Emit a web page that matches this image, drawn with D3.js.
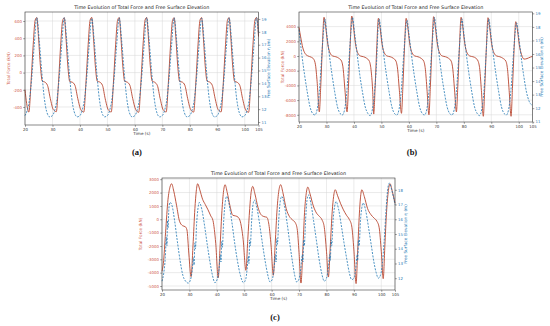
<!DOCTYPE html>
<html>
<head>
<meta charset="utf-8">
<script src="https://cdn.jsdelivr.net/npm/d3@7"></script>
<style>
  body { margin: 0; background: #fff; }
  svg { display: block; font-family: "DejaVu Sans", sans-serif; }
</style>
</head>
<body>
<svg id="fig" width="550" height="326"></svg>
<script>
// ---- shared ticks ----
var timeTicks = [20, 30, 40, 50, 60, 70, 80, 90, 100, 105];
var chartTitle = "Time Evolution of Total Force and Free Surface Elevation";
var forceLabel = "Total Force (kN)";
var etaLabel = "Free Surface Elevation \u03b7 (m)";
var timeLabel = "Time (s)";

// ---- panel (a) ----
var forceTicksA = [-400, -200, 0, 200, 400, 600];
var etaTicksA = [11, 12, 13, 14, 15, 16, 17, 18, 19];
var forceTimeA = [20, 20.6,
  21.4, 22.2, 23.0, 23.7, 24.3, 24.9, 25.6, 26.3, 27.2, 28.2, 29.2, 30.3,
  31.4, 32.2, 33.0, 33.7, 34.3, 34.9, 35.6, 36.3, 37.2, 38.2, 39.2, 40.3,
  41.4, 42.2, 43.0, 43.7, 44.3, 44.9, 45.6, 46.3, 47.2, 48.2, 49.2, 50.3,
  51.4, 52.2, 53.0, 53.7, 54.3, 54.9, 55.6, 56.3, 57.2, 58.2, 59.2, 60.3,
  61.4, 62.2, 63.0, 63.7, 64.3, 64.9, 65.6, 66.3, 67.2, 68.2, 69.2, 70.3,
  71.4, 72.2, 73.0, 73.7, 74.3, 74.9, 75.6, 76.3, 77.2, 78.2, 79.2, 80.3,
  81.4, 82.2, 83.0, 83.7, 84.3, 84.9, 85.6, 86.3, 87.2, 88.2, 89.2, 90.3,
  91.4, 92.2, 93.0, 93.7, 94.3, 94.9, 95.6, 96.3, 97.2, 98.2, 99.2, 100.3,
  101.4, 102.2, 103.0, 103.7, 104.3, 105];
var forceValA = [-200, -360,
  -460, -110, 330, 610, 640, 420, 80, -100, -110, -150, -300, -430,
  -455, -115, 330, 605, 638, 415, 75, -105, -112, -150, -300, -430,
  -460, -110, 325, 610, 642, 420, 80, -100, -110, -148, -305, -432,
  -458, -112, 330, 608, 640, 418, 78, -102, -111, -150, -300, -430,
  -462, -110, 332, 610, 641, 420, 80, -100, -112, -152, -302, -433,
  -458, -114, 328, 606, 638, 416, 76, -104, -110, -149, -300, -430,
  -460, -110, 330, 610, 640, 420, 80, -100, -110, -150, -300, -430,
  -457, -112, 326, 608, 639, 418, 78, -102, -112, -150, -302, -432,
  -462, -110, 330, 610, 642, 420];
var etaTimeA = [20, 20.8, 21.6, 22.4, 23.3, 24.3, 25.2, 26.1, 27.0, 27.9, 29.0, 30.0, 30.8,
  31.6, 32.4, 33.3, 34.3, 35.2, 36.1, 37.0, 37.9, 39.0, 40.0, 40.8,
  41.6, 42.4, 43.3, 44.3, 45.2, 46.1, 47.0, 47.9, 49.0, 50.0, 50.8,
  51.6, 52.4, 53.3, 54.3, 55.2, 56.1, 57.0, 57.9, 59.0, 60.0, 60.8,
  61.6, 62.4, 63.3, 64.3, 65.2, 66.1, 67.0, 67.9, 69.0, 70.0, 70.8,
  71.6, 72.4, 73.3, 74.3, 75.2, 76.1, 77.0, 77.9, 79.0, 80.0, 80.8,
  81.6, 82.4, 83.3, 84.3, 85.2, 86.1, 87.0, 87.9, 89.0, 90.0, 90.8,
  91.6, 92.4, 93.3, 94.3, 95.2, 96.1, 97.0, 97.9, 99.0, 100.0, 100.8,
  101.6, 102.4, 103.3, 104.3, 105];
var etaValA = [11.5, 11.9, 12.7, 14.3, 16.8, 19.1, 17.3, 14.9, 12.9, 11.8, 11.4, 11.5, 11.9,
  12.7, 14.3, 16.8, 19.1, 17.3, 14.9, 12.9, 11.8, 11.4, 11.5, 11.9,
  12.7, 14.3, 16.8, 19.05, 17.3, 14.9, 12.9, 11.8, 11.4, 11.5, 11.9,
  12.7, 14.3, 16.8, 19.1, 17.3, 14.9, 12.9, 11.8, 11.4, 11.5, 11.9,
  12.7, 14.3, 16.8, 19.1, 17.3, 14.9, 12.9, 11.8, 11.4, 11.5, 11.9,
  12.7, 14.3, 16.8, 19.1, 17.3, 14.9, 12.9, 11.8, 11.4, 11.5, 11.9,
  12.7, 14.3, 16.8, 19.05, 17.3, 14.9, 12.9, 11.8, 11.4, 11.5, 11.9,
  12.7, 14.3, 16.8, 19.1, 17.3, 14.9, 12.9, 11.8, 11.4, 11.5, 11.9,
  12.7, 14.3, 16.8, 19.1, 17.8];

// ---- panel (b) ----
var forceTicksB = [-8000, -6000, -4000, -2000, 0, 2000, 4000];
var etaTicksB = [11, 12, 13, 14, 15, 16, 17, 18, 19];
var forceTimeB = [20, 20.6, 21.4, 22.3, 23.3, 24.4, 25.3, 26.0, 26.6,
  27.4, 27.9, 28.5, 29.1, 29.7, 30.4, 31.3, 32.3, 33.4, 34.5, 35.5, 36.1, 36.7,
  37.5, 38.0, 38.6, 39.2, 39.8, 40.5, 41.4, 42.4, 43.5, 44.6, 45.6, 46.2, 46.8,
  47.2, 47.7, 48.3, 48.9, 49.5, 50.2, 51.1, 52.1, 53.2, 54.3, 55.3, 55.9, 56.5,
  57.3, 57.8, 58.4, 59.0, 59.6, 60.3, 61.2, 62.2, 63.3, 64.4, 65.4, 66.0, 66.6,
  67.3, 67.8, 68.4, 69.0, 69.6, 70.3, 71.2, 72.2, 73.3, 74.4, 75.4, 76.0, 76.6,
  77.3, 77.8, 78.4, 79.0, 79.6, 80.3, 81.2, 82.2, 83.3, 84.4, 85.2, 85.8, 86.4,
  87.1, 87.6, 88.2, 88.8, 89.4, 90.1, 91.0, 92.0, 93.1, 94.2, 95.3, 95.9, 96.5,
  97.2, 97.7, 98.3, 98.9, 99.5, 100.2, 101.0, 101.9, 103.0, 104.2, 105];
var forceValB = [3900, 2600, 1100, 300, 0, -150, -400, -1200, -3500,
  -7600, -4200, 1200, 5270, 4000, 1800, 400, 0, -100, -300, -700, -1800, -4500,
  -7600, -4200, 1300, 5440, 4100, 1800, 400, 0, -100, -300, -700, -1800, -4600,
  -7900, -4300, 1100, 5130, 3900, 1700, 400, 0, -100, -300, -700, -1800, -4500,
  -7800, -4300, 1100, 5130, 3900, 1700, 400, 0, -100, -300, -700, -1800, -4600,
  -8000, -4300, 1200, 5350, 4000, 1800, 400, 0, -100, -300, -700, -1800, -4500,
  -7600, -4200, 1200, 5270, 4000, 1800, 400, 0, -100, -300, -700, -1800, -4700,
  -8200, -4400, 1100, 5210, 3900, 1700, 400, 0, -100, -300, -700, -1800, -4700,
  -8200, -4400, 900, 4670, 3600, 1500, 200, -420, -350, -150, -50];
var etaTimeB = [20, 21.0, 22.0, 23.0, 24.0, 25.0, 25.8, 26.6, 27.4, 28.2, 28.9,
  29.4, 30.1, 31.0, 32.0, 33.0, 34.0, 35.0, 35.8, 36.6, 37.4, 38.2, 38.9,
  39.5, 40.2, 41.1, 42.1, 43.1, 44.1, 45.1, 45.9, 46.7, 47.5, 48.3, 48.7,
  49.2, 49.9, 50.8, 51.8, 52.8, 53.8, 54.8, 55.6, 56.4, 57.2, 58.0, 58.7,
  59.3, 60.0, 60.9, 61.9, 62.9, 63.9, 64.9, 65.7, 66.5, 67.3, 68.1, 68.8,
  69.3, 70.0, 70.9, 71.9, 72.9, 73.9, 74.9, 75.7, 76.5, 77.3, 78.1, 78.8,
  79.3, 80.0, 80.9, 81.9, 82.9, 83.9, 84.9, 85.7, 86.5, 87.3, 88.0, 88.6,
  89.1, 89.8, 90.7, 91.7, 92.7, 93.7, 94.7, 95.5, 96.3, 97.1, 97.9, 98.6,
  99.2, 99.9, 100.8, 101.8, 102.8, 103.8, 105];
var etaValB = [17.8, 16.0, 14.5, 13.2, 12.1, 11.6, 11.5, 11.9, 13.2, 15.6, 17.6,
  18.6, 17.5, 16.0, 14.5, 13.2, 12.1, 11.6, 11.5, 11.9, 13.2, 15.6, 17.6,
  18.7, 17.6, 16.1, 14.5, 13.2, 12.1, 11.6, 11.45, 11.9, 13.2, 15.6, 17.6,
  18.6, 17.5, 16.0, 14.5, 13.2, 12.1, 11.6, 11.5, 11.9, 13.2, 15.6, 17.5,
  18.5, 17.5, 16.0, 14.5, 13.2, 12.1, 11.6, 11.5, 11.9, 13.2, 15.6, 17.6,
  18.7, 17.6, 16.1, 14.5, 13.2, 12.1, 11.6, 11.5, 11.9, 13.2, 15.6, 17.6,
  18.6, 17.5, 16.0, 14.5, 13.2, 12.1, 11.6, 11.45, 11.9, 13.2, 15.6, 17.6,
  18.6, 17.5, 16.0, 14.5, 13.2, 12.1, 11.6, 11.5, 11.9, 13.2, 15.5, 17.4,
  18.3, 17.4, 15.9, 14.4, 13.2, 12.5, 12.2];

// ---- panel (c) ----
var forceTicksC = [-5000, -4000, -3000, -2000, -1000, 0, 1000, 2000, 3000];
var etaTicksC = [12, 13, 14, 15, 16, 17, 18];
var forceTimeC = [20, 20.5, 21.3, 22.2, 22.9, 23.5, 24.3, 25.3, 26.4, 27.5, 28.5, 29.1, 29.8,
  30.6, 31.3, 32.0, 32.5, 33.0, 33.8, 34.8, 35.8, 36.8, 37.8, 38.6, 39.6,
  40.5, 41.2, 41.8, 42.4, 43.0, 43.8, 44.8, 45.8, 46.8, 47.8, 48.6, 49.6,
  50.6, 51.3, 52.0, 52.5, 53.1, 53.9, 55.0, 56.1, 57.2, 58.2, 59.0, 59.8,
  60.6, 61.3, 62.0, 62.6, 63.3, 64.1, 65.3, 66.5, 67.6, 68.6, 69.3, 70.0,
  70.7, 71.4, 72.0, 72.6, 73.2, 74.0, 75.2, 76.4, 77.5, 78.4, 79.2, 80.0,
  80.7, 81.4, 82.1, 82.6, 83.2, 84.0, 85.1, 86.2, 87.3, 88.3, 89.2, 90.0,
  90.8, 91.4, 92.0, 92.4, 92.9, 93.8, 95.0, 96.2, 97.3, 98.4, 99.2, 100.0,
  100.7, 101.3, 101.9, 102.5, 103.2, 104.0, 105];
var forceValC = [-3900, -3300, -1000, 1500, 2400, 2660, 2100, 1050, -150, -480, -560, -800, -2600,
  -4300, -2000, 800, 2100, 2660, 2200, 1500, 1100, 700, 250, -100, -1800,
  -4380, -2000, 400, 2000, 2590, 2000, 1000, 300, 250, 150, -200, -1500,
  -3830, -1500, 800, 2000, 2460, 1900, 900, 350, 200, 150, -400, -2000,
  -4200, -1800, 800, 2100, 2590, 2000, 800, 200, -50, -250, -700, -2500,
  -4780, -2200, 500, 1900, 2410, 1900, 1000, 450, 200, -50, -600, -2400,
  -4330, -2000, 600, 1700, 2210, 1800, 1200, 700, 300, 0, -500, -2300,
  -4820, -2300, 400, 1600, 2210, 1700, 800, 350, 100, -150, -600, -2400,
  -4450, -2000, 500, 2000, 2660, 2100, 1200];
var etaTimeC = [20, 20.6, 21.2, 21.6, 21.8, 22.0, 22.2, 22.5, 22.9, 23.7, 24.6, 25.6, 26.6, 27.6, 28.6,
  29.6, 30.4, 31.0, 31.5, 31.7, 32.0, 32.2, 32.6, 33.1, 33.6, 34.5, 35.5, 36.5, 37.5, 38.4,
  39.3, 40.1, 40.8, 41.3, 41.5, 41.8, 42.0, 42.5, 43.1, 43.6, 44.5, 45.5, 46.5, 47.5, 48.6,
  49.7, 50.5, 51.1, 51.5, 51.7, 52.0, 52.2, 52.7, 53.2, 53.7, 54.6, 55.6, 56.6, 57.6, 58.5,
  59.4, 60.2, 60.9, 61.4, 61.6, 61.9, 62.1, 62.6, 63.2, 63.7, 64.6, 65.6, 66.6, 67.6, 68.4,
  69.1, 69.9, 70.6, 71.2, 71.4, 71.7, 71.9, 72.4, 72.9, 73.4, 74.3, 75.3, 76.3, 77.3, 78.3,
  79.2, 80.0, 80.7, 81.2, 81.4, 81.7, 81.9, 82.4, 83.0, 83.5, 84.4, 85.4, 86.4, 87.4, 88.3,
  89.2, 90.0, 90.7, 91.2, 91.4, 91.7, 91.9, 92.4, 92.9, 93.4, 94.3, 95.3, 96.3, 97.3, 98.1,
  98.9, 99.7, 100.4, 101.0, 101.6, 102.1, 102.9, 103.8, 105];
var etaValC = [11.8, 12.3, 13.4, 14.8, 14.2, 15.9, 15.4, 16.7, 17.15, 16.9, 15.9, 14.5, 13.2, 12.2, 11.8,
  11.67, 11.9, 12.5, 13.4, 12.9, 14.4, 14.0, 15.6, 16.7, 17.14, 16.7, 15.6, 14.3, 13.1, 12.2,
  11.7, 11.9, 12.6, 13.6, 13.1, 14.5, 14.1, 15.9, 17.2, 17.55, 17.0, 15.8, 14.4, 13.2, 12.2,
  11.7, 11.9, 12.7, 13.5, 13.0, 14.6, 14.2, 15.9, 17.0, 17.3, 16.8, 15.7, 14.4, 13.2, 12.3,
  11.75, 11.9, 12.7, 13.6, 13.1, 14.7, 14.3, 16.0, 17.3, 17.55, 17.0, 15.8, 14.4, 13.1, 12.2,
  11.75, 11.9, 12.6, 13.6, 13.1, 14.6, 14.2, 16.0, 17.3, 17.65, 17.1, 15.9, 14.6, 13.3, 12.3,
  11.8, 12.0, 12.7, 13.6, 13.2, 14.6, 14.2, 15.9, 16.9, 17.2, 16.7, 15.6, 14.4, 13.3, 12.4,
  11.9, 12.0, 12.7, 13.6, 13.2, 14.6, 14.2, 15.9, 16.8, 17.1, 16.6, 15.5, 14.3, 13.1, 12.4,
  12.0, 12.2, 13.0, 14.4, 16.2, 17.6, 18.45, 18.0, 17.0];

var forceColor = "#b8452f";
var forceText = "#cf5a4c";
var etaColor = "#1f77b4";

var svg = d3.select("#fig");
var fmt = d => (d < 0 ? "-" : "") + Math.abs(d);

function drawPanel(p) {
    var g = svg.append("g");
    var x = d3.scaleLinear().domain([20, 105]).range([p.x0, p.x1]);
    var yF = d3.scaleLinear().domain(p.forceDomain).range([p.y1, p.y0]);
    var yE = d3.scaleLinear().domain(p.etaDomain).range([p.y1, p.y0]);

    //grid
    g.append("g").selectAll("line.vg").data(p.xTicks).enter().append("line")
        .attr("x1", d => x(d)).attr("x2", d => x(d))
        .attr("y1", p.y0).attr("y2", p.y1)
        .attr("stroke", "#d6d6d6").attr("stroke-width", 0.5);
    g.append("g").selectAll("line.hg").data(p.forceTicks).enter().append("line")
        .attr("x1", p.x0).attr("x2", p.x1)
        .attr("y1", d => yF(d)).attr("y2", d => yF(d))
        .attr("stroke", "#d6d6d6").attr("stroke-width", 0.5);

    //series
    var fLine = d3.line().x(d => x(d[0])).y(d => yF(d[1])).curve(d3.curveMonotoneX);
    var eLine = d3.line().x(d => x(d[0])).y(d => yE(d[1])).curve(d3.curveMonotoneX);
    g.append("path")
        .datum(p.forceT.map((t, i) => [t, p.forceV[i]]))
        .attr("d", fLine)
        .attr("fill", "none").attr("stroke", forceColor).attr("stroke-width", 0.9);
    g.append("path")
        .datum(p.etaT.map((t, i) => [t, p.etaV[i]]))
        .attr("d", eLine)
        .attr("fill", "none").attr("stroke", etaColor).attr("stroke-width", 0.8)
        .attr("stroke-dasharray", "2,1.3");

    //frame
    g.append("rect")
        .attr("x", p.x0).attr("y", p.y0)
        .attr("width", p.x1 - p.x0).attr("height", p.y1 - p.y0)
        .attr("fill", "none").attr("stroke", "#3a3a3a").attr("stroke-width", 0.6);

    //axes
    var ax = g.append("g").attr("transform", "translate(0," + p.y1 + ")")
        .call(d3.axisBottom(x).tickValues(p.xTicks).tickFormat(fmt).tickSize(1.8).tickPadding(1));
    var al = g.append("g").attr("transform", "translate(" + p.x0 + ",0)")
        .call(d3.axisLeft(yF).tickValues(p.forceTicks).tickFormat(fmt).tickSize(1.8).tickPadding(1.2));
    var ar = g.append("g").attr("transform", "translate(" + p.x1 + ",0)")
        .call(d3.axisRight(yE).tickValues(p.etaTicks).tickFormat(fmt).tickSize(1.8).tickPadding(1.2));
    [ax, al, ar].forEach(a => {
        a.select(".domain").remove();
        a.attr("font-size", 3.9).attr("font-family", "DejaVu Sans");
        a.selectAll("line").attr("stroke", "#3a3a3a").attr("stroke-width", 0.5);
    });
    ax.selectAll("text").attr("fill", "#333");
    al.selectAll("text").attr("fill", forceText);
    ar.selectAll("text").attr("fill", etaColor);

    //title + labels
    g.append("text")
        .attr("x", (p.x0 + p.x1) / 2).attr("y", p.y0 - 3)
        .attr("text-anchor", "middle").attr("font-size", 4.8).attr("fill", "#222")
        .text(chartTitle);
    g.append("text")
        .attr("x", (p.x0 + p.x1) / 2).attr("y", p.y1 + 10)
        .attr("text-anchor", "middle").attr("font-size", 4.2).attr("fill", "#333")
        .text(timeLabel);
    g.append("text")
        .attr("transform", "translate(" + p.leftLabelX + "," + (p.y0 + p.y1) / 2 + ") rotate(-90)")
        .attr("text-anchor", "middle").attr("font-size", 4.2).attr("fill", forceText)
        .text(forceLabel);
    g.append("text")
        .attr("transform", "translate(" + p.rightLabelX + "," + (p.y0 + p.y1) / 2 + ") rotate(-90)")
        .attr("text-anchor", "middle").attr("font-size", 4.2).attr("fill", etaColor)
        .text(etaLabel);
}

drawPanel({x0: 25, x1: 258.5, y0: 12, y1: 125, leftLabelX: 10, rightLabelX: 270,
    forceDomain: [-610, 705], etaDomain: [10.77, 19.54],
    xTicks: timeTicks, forceTicks: forceTicksA, etaTicks: etaTicksA,
    forceT: forceTimeA, forceV: forceValA, etaT: etaTimeA, etaV: etaValA});

drawPanel({x0: 299, x1: 532.5, y0: 12, y1: 122, leftLabelX: 284, rightLabelX: 543,
    forceDomain: [-8980, 5990], etaDomain: [10.98, 19.1],
    xTicks: timeTicks, forceTicks: forceTicksB, etaTicks: etaTicksB,
    forceT: forceTimeB, forceV: forceValB, etaT: etaTimeB, etaV: etaValB});

drawPanel({x0: 162, x1: 395, y0: 178, y1: 290, leftLabelX: 142, rightLabelX: 407,
    forceDomain: [-5300, 3090], etaDomain: [11.2, 18.8],
    xTicks: timeTicks, forceTicks: forceTicksC, etaTicks: etaTicksC,
    forceT: forceTimeC, forceV: forceValC, etaT: etaTimeC, etaV: etaValC});

//sub-figure labels
var subLabels = ["(a)", "(b)", "(c)"];
var subPos = [[137, 155], [412, 155], [275, 320]];
svg.selectAll("text.sub").data(subLabels).enter().append("text")
    .attr("class", "sub")
    .attr("x", (d, i) => subPos[i][0]).attr("y", (d, i) => subPos[i][1])
    .attr("text-anchor", "middle")
    .attr("font-family", "Liberation Serif, serif")
    .attr("font-weight", "bold")
    .attr("font-size", 8.5)
    .attr("fill", "#111")
    .text(d => d);
</script>
</body>
</html>
